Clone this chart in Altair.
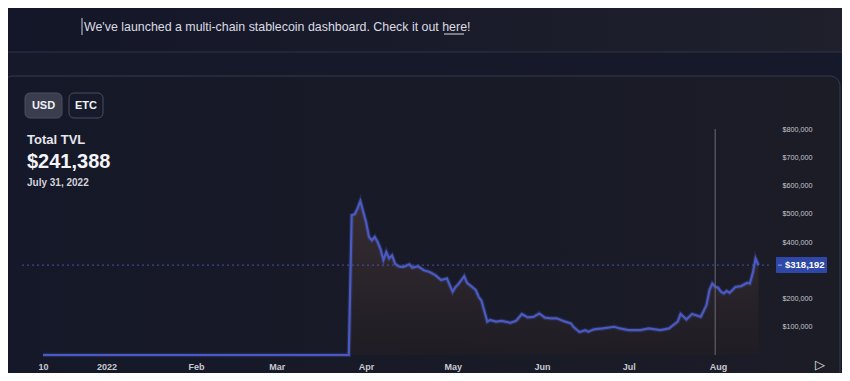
import altair as alt
import pandas as pd

# ---------------- data ----------------
dates = [
    "2021-12-10", "2022-01-15", "2022-02-20", "2022-03-26",
    "2022-03-27", "2022-03-28", "2022-03-29", "2022-03-30", "2022-04-01", "2022-04-02",
    "2022-04-03", "2022-04-04", "2022-04-05", "2022-04-06", "2022-04-07", "2022-04-08",
    "2022-04-09", "2022-04-10", "2022-04-11", "2022-04-12", "2022-04-13", "2022-04-14",
    "2022-04-16", "2022-04-17", "2022-04-19", "2022-04-21", "2022-04-23", "2022-04-25",
    "2022-04-26", "2022-04-27", "2022-04-29", "2022-04-30", "2022-05-01", "2022-05-02",
    "2022-05-03", "2022-05-05", "2022-05-06", "2022-05-07", "2022-05-09", "2022-05-10",
    "2022-05-11", "2022-05-12", "2022-05-13", "2022-05-14", "2022-05-16", "2022-05-18",
    "2022-05-21", "2022-05-23", "2022-05-25", "2022-05-27", "2022-05-29", "2022-05-31",
    "2022-06-02", "2022-06-04", "2022-06-06", "2022-06-09", "2022-06-11", "2022-06-12",
    "2022-06-14", "2022-06-16", "2022-06-17", "2022-06-19", "2022-06-22", "2022-06-26",
    "2022-06-28", "2022-07-01", "2022-07-05", "2022-07-08", "2022-07-12", "2022-07-15",
    "2022-07-18", "2022-07-19", "2022-07-21", "2022-07-23", "2022-07-26", "2022-07-28",
    "2022-07-29", "2022-07-30", "2022-07-31", "2022-08-01", "2022-08-02", "2022-08-03",
    "2022-08-04", "2022-08-05", "2022-08-06", "2022-08-07", "2022-08-09", "2022-08-11",
    "2022-08-12", "2022-08-13", "2022-08-14", "2022-08-15",
]
tvl = [
    0, 0, 0, 0,
    495000, 498000, 518000, 545000, 470000, 418000,
    406000, 418000, 400000, 375000, 336000, 365000,
    342000, 353000, 324000, 315000, 312000, 312000,
    321000, 309000, 314000, 300000, 294000, 283000,
    274000, 265000, 271000, 247000, 224000, 241000,
    251000, 279000, 255000, 247000, 230000, 206000,
    192000, 155000, 118000, 124000, 118000, 121000,
    114000, 121000, 145000, 133000, 135000, 147000,
    132000, 130000, 130000, 118000, 112000, 98000,
    81000, 88000, 82000, 91000, 94000, 100000,
    94000, 88000, 88000, 94000, 88000, 94000,
    118000, 145000, 126000, 145000, 135000, 177000,
    230000, 253000, 241388, 238000, 224000, 218000,
    227000, 220000, 230000, 241000, 244000, 255000,
    253000, 289000, 342000, 318192,
]

x_tick_dates = ["2021-12-10", "2022-01-01", "2022-02-01", "2022-03-01", "2022-04-01",
                "2022-05-01", "2022-06-01", "2022-07-01", "2022-08-01"]
x_tick_labels = ["10", "2022", "Feb", "Mar", "Apr", "May", "Jun", "Jul", "Aug"]
y_tick_values = [100000, 200000, 400000, 500000, 600000, 700000, 800000]

selected_date = "2022-07-31"
selected_label = "July 31, 2022"
selected_value = 241388
last_value = 318192

banner_text = "We've launched a multi-chain stablecoin dashboard. Check it out here!"

# ---------------- layout ----------------
W, H = 727, 226
Y_MAX = 800000
FONT = "Liberation Sans"
LINE = "#4a5ac0"

df = pd.DataFrame({"date": dates, "tvl": tvl})
one = pd.DataFrame({"k": [0]})


def dt(s):
    y, m, d = (int(v) for v in s.split("-"))
    return alt.DateTime(year=y, month=m, date=d, utc=True)


label_expr = "''"
for d, lab in zip(reversed(x_tick_dates), reversed(x_tick_labels)):
    label_expr = f"utcFormat(datum.value, '%Y-%m-%d') == '{d}' ? '{lab}' : ({label_expr})"

X_ENC = alt.X(
    "date:T",
    title=None,
    scale=alt.Scale(type="utc", domain=[dt("2021-12-10"), dt("2022-08-19")]),
    axis=alt.Axis(
        values=[dt(d) for d in x_tick_dates], labelExpr=label_expr,
        grid=False, domain=False, ticks=False, labelPadding=7,
        labelFont=FONT, labelFontSize=9, labelFontWeight="bold",
        labelColor="#c8c9d0", labelFlush=False, labelOverlap=False, zindex=2,
    ),
)
Y_ENC = alt.Y(
    "tvl:Q",
    title=None,
    scale=alt.Scale(domain=[0, Y_MAX], nice=False),
    axis=alt.Axis(
        orient="right", values=y_tick_values,
        labelExpr="'$' + format(datum.value, ',')",
        grid=False, domain=False, ticks=False, labelPadding=12,
        labelFont=FONT, labelFontSize=7.2, labelColor="#c6c6cc",
        labelFlush=False, labelOverlap=False, zindex=2,
    ),
)


def rect(x, x2, y, y2, **kw):
    return alt.Chart(one).mark_rect(**kw).encode(
        x=alt.value(x), x2=alt.value(x2), y=alt.value(y), y2=alt.value(y2))


def text(s, x, y, size, color, weight="normal", align="left", font=FONT):
    return alt.Chart(one).mark_text(
        align=align, baseline="middle", font=font, fontSize=size,
        fontWeight=weight, color=color,
    ).encode(x=alt.value(x), y=alt.value(y), text=alt.value(s))


def hgrad(c1, c2):
    return alt.Gradient(gradient="linear",
                        stops=[alt.GradientStop(color=c1, offset=0),
                               alt.GradientStop(color=c2, offset=1)],
                        x1=0, x2=1, y1=0, y2=0)


# backgrounds
banner = rect(-60, 810, -140, -77, fill=hgrad("#131628", "#1f202c"),
              stroke="#30344a", strokeWidth=1, cornerRadius=6)
panel = rect(-40, 797, -53, 290, fill=hgrad("#151828", "#1b1c26"),
             stroke="#363a4c", strokeWidth=1, cornerRadius=10)

# banner text
cursor = alt.Chart(one).mark_rule(color="#d0d0d8", strokeWidth=1).encode(
    x=alt.value(39), y=alt.value(-111), y2=alt.value(-94))
banner_txt = text(banner_text, 41, -102, 12.4, "#dcdce2")
underline = alt.Chart(one).mark_rule(color="#dcdce2", strokeWidth=1).encode(
    x=alt.value(401), x2=alt.value(421), y=alt.value(-95))

# buttons
usd_btn = rect(-18, 19, -36, -11, fill="#3a3d4d", stroke="#4c4f5e", cornerRadius=5)
etc_btn = rect(26, 60, -36, -11, fill="#171a2a", stroke="#4a4d5e", cornerRadius=5)
usd_txt = text("USD", 0.5, -23.5, 11, "#f0f0f4", "bold", "center")
etc_txt = text("ETC", 43, -23.5, 11, "#f0f0f4", "bold", "center")

# header texts
t_title = text("Total TVL", -16, 11, 13, "#e6e6ec", "bold")
t_value = text(f"${selected_value:,}", -16, 33, 20, "#f4f4f8", "bold")
t_date = text(selected_label, -16, 54, 10, "#d2d2da", "bold")

# series
area_fill = alt.Gradient(gradient="linear",
                         stops=[alt.GradientStop(color="#3a2f33", offset=0),
                                alt.GradientStop(color="#1f1c24", offset=1)],
                         x1=0, x2=0, y1=0, y2=1)
base = alt.Chart(df).encode(x=X_ENC, y=Y_ENC)
area = base.mark_area(fill=area_fill, opacity=0.9)
glow = base.mark_line(color=LINE, strokeWidth=4.5, opacity=0.25)
line = base.mark_line(color=LINE, strokeWidth=2.2)

cross = alt.Chart(pd.DataFrame({"date": [selected_date]})).mark_rule(
    color="#6c6c74", strokeWidth=1).encode(x=X_ENC, y=alt.value(0), y2=alt.value(H))

last_df = pd.DataFrame({"tvl": [last_value], "label": [f"${last_value:,}"]})
dashed = alt.Chart(last_df).mark_rule(color=LINE, strokeWidth=1, strokeDash=[2, 3],
                                      opacity=0.9).encode(
    y=Y_ENC, x=alt.value(-21), x2=alt.value(W))
yv = H * (1 - last_value / Y_MAX)
price_box = rect(733, 784, yv - 8, yv + 8, fill="#2f48a8", cornerRadius=1)
price_tick = alt.Chart(last_df).mark_rule(color="#9aa6e0", strokeWidth=1).encode(
    y=Y_ENC, x=alt.value(735), x2=alt.value(739))
price_txt = alt.Chart(last_df).mark_text(
    align="left", baseline="middle", font=FONT, fontSize=9.5, fontWeight="bold",
    color="#ffffff").encode(y=Y_ENC, x=alt.value(742), text="label:N")

play = text("▷", 777, 236, 13, "#e0e0e6", "normal", "center", "DejaVu Sans")

chart = alt.layer(
    banner, panel, cursor, banner_txt, underline,
    usd_btn, etc_btn, usd_txt, etc_txt,
    area, glow, line, cross, dashed, price_box, price_tick, price_txt,
    t_title, t_value, t_date, play,
).properties(
    width=W, height=H,
    padding={"left": 35, "top": 121, "right": 72, "bottom": 18},
    autosize=alt.AutoSizeParams(type="none"),
    background="#161929",
).configure_view(stroke=None)

chart.save("out.html", embed_options={"renderer": "svg", "actions": False})
